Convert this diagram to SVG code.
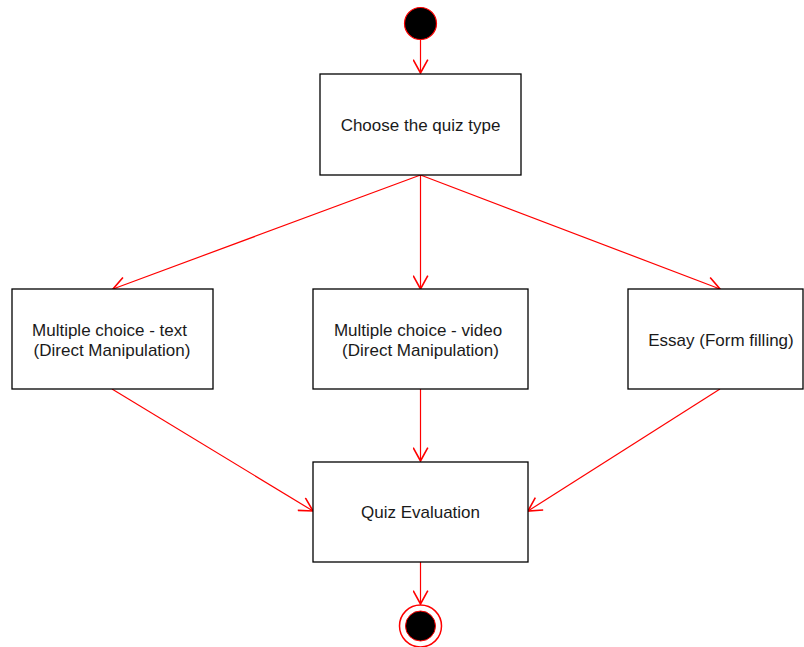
<svg xmlns="http://www.w3.org/2000/svg" width="804" height="647" viewBox="0 0 804 647">
<style>
.box{fill:#fff;stroke:#000;stroke-width:1.3}
.t{font-family:"Liberation Sans",Arial,sans-serif;font-size:17px;fill:#1a1a1a;text-anchor:middle}
.c{stroke:#ff0000;stroke-width:1.2;fill:none;marker-end:url(#a)}
</style>
<defs>
<marker id="a" markerWidth="16" markerHeight="16" refX="0" refY="0" viewBox="-11 -6 12 12" orient="auto" markerUnits="userSpaceOnUse">
<path d="M-10,-5.5 L0,0 L-10,5.5" fill="none" stroke="#ff0000" stroke-width="1.2"/>
</marker>
</defs>
<rect width="804" height="647" fill="#fff"/>
<g id="connectors">
<line class="c" x1="420.5" y1="39" x2="420.5" y2="73"/>
<line class="c" x1="420.5" y1="175" x2="113" y2="289"/>
<line class="c" x1="420.5" y1="175" x2="420.5" y2="289"/>
<line class="c" x1="420.5" y1="175" x2="720" y2="289"/>
<line class="c" x1="112" y1="389" x2="313" y2="511"/>
<line class="c" x1="420.5" y1="389" x2="420.5" y2="461"/>
<line class="c" x1="720" y1="389" x2="528" y2="511"/>
<line class="c" x1="420.5" y1="562" x2="420.5" y2="604"/>
</g>
<g id="start"><circle cx="420.5" cy="23.5" r="16" fill="#000" stroke="#ff0000" stroke-width="1.2"/></g>
<g id="choose"><rect class="box" x="320" y="74" width="201" height="101"/><text class="t" x="420.5" y="131">Choose the quiz type</text></g>
<g id="mctext"><rect class="box" x="12" y="289" width="201" height="100"/><text class="t" x="109.5" y="336">Multiple choice - text</text><text class="t" x="112" y="356">(Direct Manipulation)</text></g>
<g id="mcvideo"><rect class="box" x="313" y="289" width="215" height="100"/><text class="t" x="418" y="336">Multiple choice - video</text><text class="t" x="420.5" y="356">(Direct Manipulation)</text></g>
<g id="essay"><rect class="box" x="628" y="289" width="175" height="100"/><text class="t" x="721" y="346">Essay (Form filling)</text></g>
<g id="eval"><rect class="box" x="313" y="462" width="215" height="100"/><text class="t" x="420.5" y="518">Quiz Evaluation</text></g>
<g id="end"><circle cx="420.5" cy="626" r="21" fill="#fff" stroke="#ff0000" stroke-width="1.5"/><circle cx="420.5" cy="626" r="15" fill="#000" stroke="#ff0000" stroke-width="1"/></g>
</svg>
